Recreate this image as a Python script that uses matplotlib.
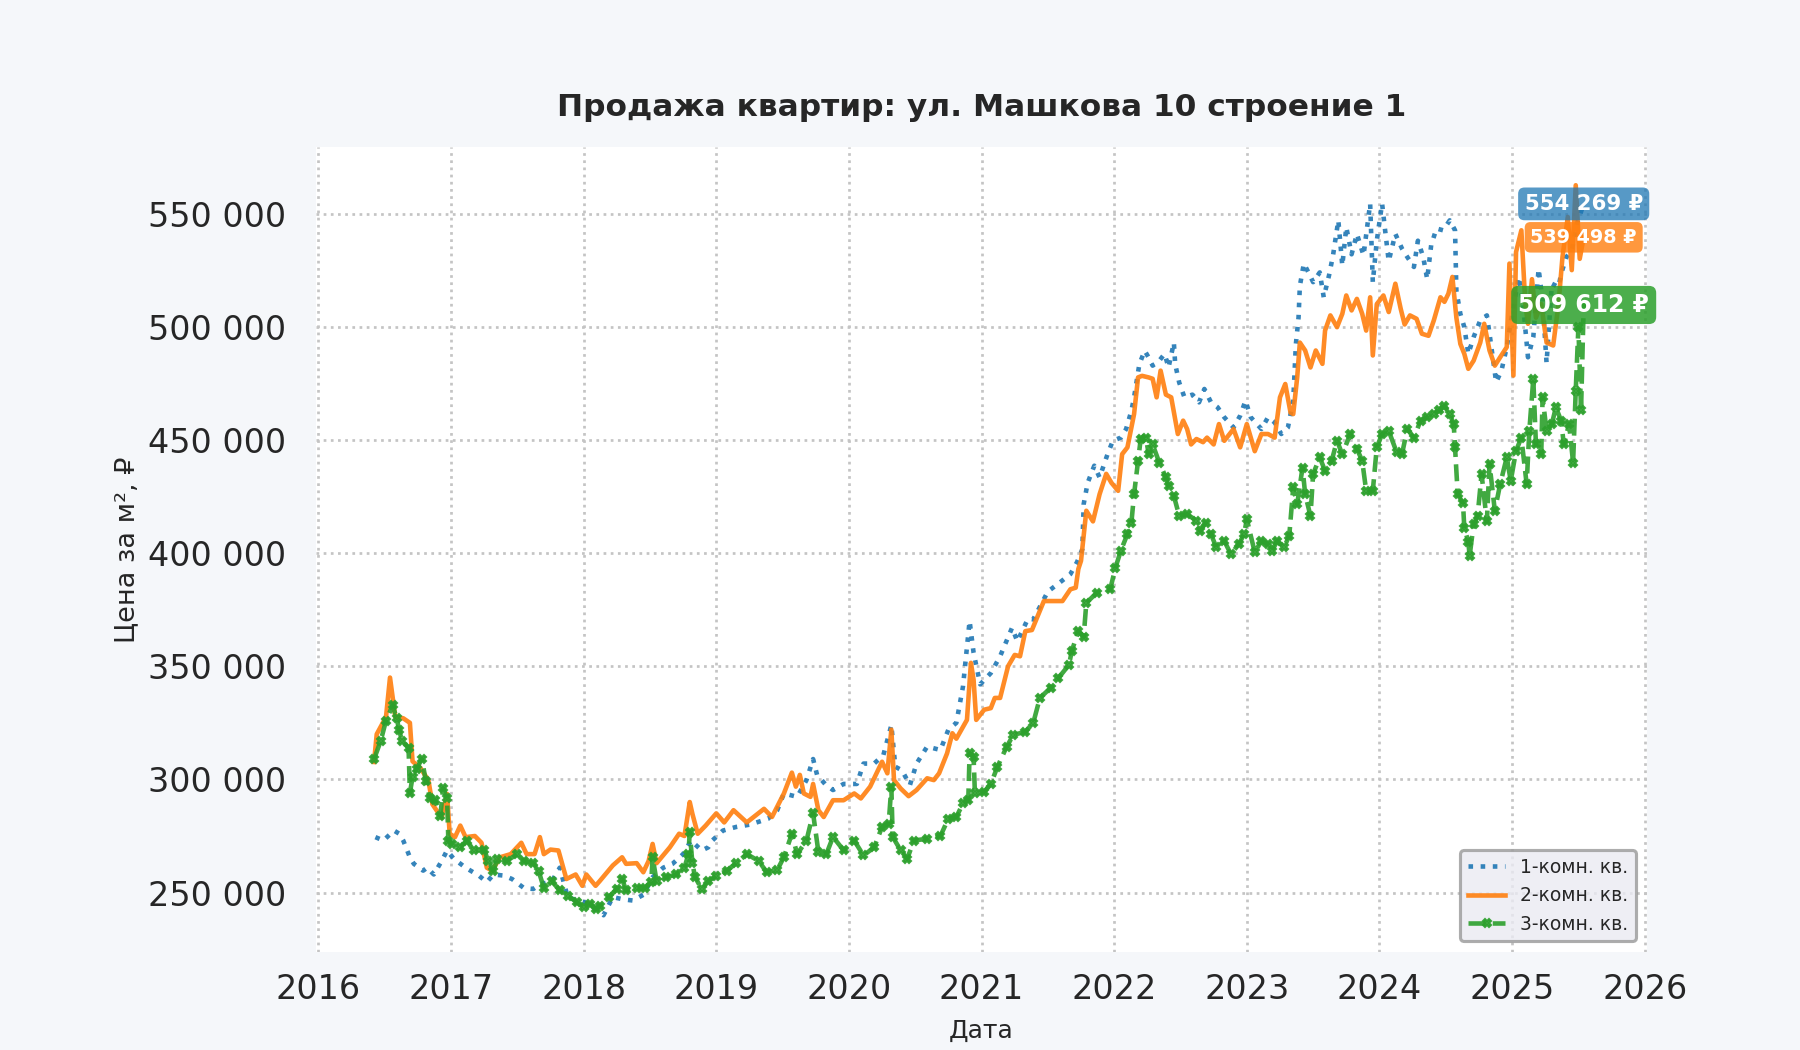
import matplotlib
matplotlib.use("Agg")
import matplotlib.pyplot as plt
from matplotlib.ticker import FuncFormatter, MultipleLocator

# decimal years / price per m2 in thousands of roubles
t1 = [2016.43, 2016.49, 2016.57, 2016.61, 2016.64, 2016.69, 2016.72, 2016.79, 2016.82, 2016.87,
      2016.93, 2016.97, 2017.02, 2017.11, 2017.21, 2017.27, 2017.32, 2017.40, 2017.46, 2017.55,
      2017.62, 2017.68, 2017.76, 2017.82, 2017.88, 2017.95, 2018.01, 2018.07, 2018.15, 2018.22,
      2018.30, 2018.37, 2018.45, 2018.52, 2018.60, 2018.67, 2018.75, 2018.81, 2018.89, 2018.94,
      2018.97, 2019.05, 2019.15, 2019.25, 2019.39, 2019.46, 2019.51, 2019.61, 2019.68, 2019.73,
      2019.76, 2019.82, 2019.88, 2019.96, 2020.06, 2020.11, 2020.19, 2020.26, 2020.32, 2020.35,
      2020.40, 2020.46, 2020.51, 2020.59, 2020.69, 2020.75, 2020.81, 2020.86, 2020.91, 2020.94,
      2020.99, 2021.07, 2021.14, 2021.23, 2021.27, 2021.35, 2021.39, 2021.50, 2021.59, 2021.67,
      2021.72, 2021.76, 2021.77, 2021.80, 2021.85, 2021.89, 2021.95, 2021.99, 2022.05, 2022.09,
      2022.13, 2022.15, 2022.19, 2022.23, 2022.26, 2022.29, 2022.34, 2022.38, 2022.41, 2022.45,
      2022.46, 2022.49, 2022.53, 2022.59, 2022.64, 2022.68, 2022.73, 2022.78, 2022.83, 2022.90,
      2022.95, 2022.99, 2023.03, 2023.11, 2023.16, 2023.21, 2023.26, 2023.31, 2023.35, 2023.37,
      2023.39, 2023.40, 2023.43, 2023.47, 2023.50, 2023.55, 2023.58, 2023.62, 2023.65, 2023.69,
      2023.72, 2023.75, 2023.79, 2023.83, 2023.88, 2023.93, 2023.95, 2023.98, 2024.02, 2024.04,
      2024.07, 2024.12, 2024.17, 2024.21, 2024.26, 2024.29, 2024.33, 2024.36, 2024.39, 2024.43,
      2024.48, 2024.53, 2024.57, 2024.58, 2024.61, 2024.64, 2024.67, 2024.71, 2024.76, 2024.81,
      2024.83, 2024.88, 2024.92, 2024.96, 2024.99, 2025.05, 2025.08, 2025.12, 2025.16, 2025.20,
      2025.23, 2025.26, 2025.30, 2025.35, 2025.37, 2025.41, 2025.45, 2025.49, 2025.54]
p1 = [274.5, 273, 277.4, 276, 273, 265.6, 262.7, 259.7, 261, 258,
      264, 268.6, 265, 261, 257.5, 254.6, 258, 257.5, 256, 252,
      251.6, 253.8, 255, 261, 248, 246.5, 245.7, 243.5, 240, 248,
      247, 246.5, 249, 256.8, 261, 262.7, 267, 273, 268.6, 270,
      273, 277.4, 279, 280, 282.6, 286.4, 293.8, 292.3, 299.7, 309,
      302, 298, 295.3, 298, 298, 307, 307, 310.8, 324, 305.6,
      304, 297.5, 307, 314.5, 313, 322, 325, 341, 370, 356,
      342, 347, 354.4, 367, 361, 371, 370.7, 383, 387, 390.7,
      396, 401.7, 421.6, 431, 438.6, 433.4, 443.7, 449.6, 451, 454.8,
      462.9, 468.8, 483.5, 489.4, 486.4, 482.8, 485, 488, 482, 493,
      483.5, 475.4, 468.8, 470, 466.6, 472.5, 466.6, 464.4, 460, 455.5,
      460.7, 467.3, 460, 454.8, 460, 457.7, 452.6, 455.5, 467.3, 492.3,
      504, 518, 527.9, 523.4, 519.7, 524, 513, 522.7, 531.5, 547,
      527, 544, 532, 541, 531.5, 554.4, 519.7, 538, 554.4, 544,
      529, 541, 534.5, 530.8, 526.4, 538, 530.8, 521, 536, 543.4,
      542.6, 547, 542.6, 516, 505.7, 499.8, 488, 495.4, 502.8, 505,
      496.9, 475.5, 480.6, 491, 502, 522, 511.6, 486.5, 495.4, 525.6,
      511.6, 484, 519, 517.5, 523.4, 530.8, 533.8, 545.6, 554.269]

t2 = [2016.42, 2016.44, 2016.51, 2016.54, 2016.58, 2016.64, 2016.69, 2016.71, 2016.77, 2016.83,
      2016.86, 2016.93, 2016.97, 2016.99, 2017.03, 2017.07, 2017.11, 2017.18, 2017.23, 2017.27,
      2017.31, 2017.37, 2017.45, 2017.53, 2017.57, 2017.63, 2017.67, 2017.70, 2017.75, 2017.81,
      2017.87, 2017.94, 2017.99, 2018.02, 2018.09, 2018.12, 2018.22, 2018.29, 2018.32, 2018.40,
      2018.45, 2018.49, 2018.52, 2018.55, 2018.65, 2018.72, 2018.76, 2018.80, 2018.82, 2018.86,
      2018.92, 2019.00, 2019.06, 2019.13, 2019.23, 2019.36, 2019.42, 2019.51, 2019.57, 2019.60,
      2019.63, 2019.66, 2019.71, 2019.73, 2019.77, 2019.81, 2019.88, 2019.96, 2020.04, 2020.09,
      2020.16, 2020.25, 2020.29, 2020.32, 2020.34, 2020.39, 2020.45, 2020.51, 2020.59, 2020.64,
      2020.68, 2020.74, 2020.78, 2020.81, 2020.89, 2020.92, 2020.94, 2020.96, 2021.02, 2021.07,
      2021.10, 2021.14, 2021.20, 2021.25, 2021.29, 2021.33, 2021.38, 2021.47, 2021.53, 2021.61,
      2021.67, 2021.71, 2021.73, 2021.75, 2021.79, 2021.84, 2021.89, 2021.94, 2021.98, 2022.03,
      2022.06, 2022.10, 2022.15, 2022.18, 2022.21, 2022.26, 2022.29, 2022.32, 2022.35, 2022.39,
      2022.43, 2022.48, 2022.52, 2022.55, 2022.58, 2022.62, 2022.67, 2022.70, 2022.75, 2022.79,
      2022.83, 2022.90, 2022.95, 2023.00, 2023.06, 2023.11, 2023.16, 2023.21, 2023.25, 2023.29,
      2023.33, 2023.35, 2023.38, 2023.40, 2023.44, 2023.48, 2023.52, 2023.57, 2023.59, 2023.63,
      2023.68, 2023.72, 2023.75, 2023.79, 2023.83, 2023.87, 2023.90, 2023.93, 2023.95, 2023.98,
      2024.03, 2024.07, 2024.12, 2024.16, 2024.19, 2024.23, 2024.28, 2024.32, 2024.37, 2024.41,
      2024.46, 2024.49, 2024.52, 2024.55, 2024.58, 2024.61, 2024.64, 2024.67, 2024.71, 2024.76,
      2024.79, 2024.83, 2024.87, 2024.91, 2024.96, 2024.98, 2025.01, 2025.03, 2025.07, 2025.10,
      2025.12, 2025.15, 2025.18, 2025.22, 2025.26, 2025.31, 2025.35, 2025.38, 2025.42, 2025.45,
      2025.48, 2025.51, 2025.54]
p2 = [307.7, 320, 327.6, 345, 327.6, 327, 325, 308, 305, 299.5,
      289, 283, 293.6, 276, 274.5, 279.6, 274.5, 275, 272, 261,
      259.7, 265.6, 267, 272, 267, 267, 274.5, 267, 269, 268.6,
      256, 258, 253, 258, 253, 255, 262, 265.6, 262.7, 263,
      259, 264, 271.5, 263, 270, 276, 275, 290, 284.8, 276,
      279.6, 285, 281, 286.4, 281, 287, 283.4, 293.8, 303, 296.8,
      302, 293.8, 292.3, 298, 286.4, 283.4, 290.8, 290.8, 293.8, 291.6,
      296.8, 307.8, 302.7, 322, 299.7, 296, 292.6, 295.3, 300.5, 299.7,
      302.7, 311.5, 320.4, 318, 326.3, 351.5, 344, 326.3, 330.8, 331.5,
      336, 336, 350, 355, 354.4, 365.5, 366, 378.8, 378.8, 378.8,
      384, 384.7, 393, 396.6, 418.7, 414, 426, 435, 431, 427.5,
      443.7, 446.7, 461.4, 477.6, 478.3, 477.6, 477, 468.8, 480.6, 470,
      468.8, 452.6, 458.5, 454.8, 448, 450.4, 449, 451, 448, 457,
      449.6, 454.8, 446.7, 457, 445, 452.6, 452.6, 451, 468.8, 474.7,
      462, 461.4, 477.7, 493, 489.5, 482, 489.5, 483.6, 498.3, 505,
      499.8, 505.7, 513.8, 507.2, 512.3, 505.7, 498.3, 513, 487.3, 510,
      513.8, 506.5, 519, 508, 501, 505, 503.5, 496.9, 496, 502.8,
      513, 511, 514.6, 522, 504, 492.4, 488, 481.4, 485, 493,
      501.3, 489.5, 482.8, 486.5, 491, 527.9, 478.4, 533, 542.6, 510,
      501.3, 521, 504, 510, 493, 491.7, 510, 530.8, 548.5, 525,
      562.5, 530, 539.498]

t3 = [2016.42, 2016.47, 2016.51, 2016.56, 2016.59, 2016.61, 2016.63, 2016.68, 2016.69, 2016.71,
      2016.74, 2016.78, 2016.81, 2016.84, 2016.88, 2016.92, 2016.94, 2016.97, 2016.98, 2017.01,
      2017.07, 2017.12, 2017.17, 2017.25, 2017.28, 2017.32, 2017.35, 2017.42, 2017.50, 2017.55,
      2017.62, 2017.66, 2017.70, 2017.76, 2017.82, 2017.88, 2017.95, 2018.00, 2018.05, 2018.09,
      2018.12, 2018.19, 2018.25, 2018.29, 2018.32, 2018.40, 2018.46, 2018.51, 2018.52, 2018.55,
      2018.62, 2018.70, 2018.76, 2018.79, 2018.80, 2018.82, 2018.84, 2018.89, 2018.94, 2019.00,
      2019.08, 2019.15, 2019.23, 2019.32, 2019.38, 2019.46, 2019.51, 2019.57, 2019.61, 2019.68,
      2019.73, 2019.77, 2019.83, 2019.88, 2019.96, 2020.04, 2020.11, 2020.19, 2020.25, 2020.30,
      2020.32, 2020.33, 2020.39, 2020.44, 2020.49, 2020.59, 2020.69, 2020.75, 2020.81, 2020.86,
      2020.90, 2020.91, 2020.94, 2020.95, 2021.02, 2021.07, 2021.12, 2021.19, 2021.24, 2021.33,
      2021.39, 2021.44, 2021.52, 2021.58, 2021.66, 2021.68, 2021.73, 2021.77, 2021.79, 2021.87,
      2021.97, 2022.01, 2022.05, 2022.10, 2022.13, 2022.15, 2022.18, 2022.20, 2022.24, 2022.26,
      2022.29, 2022.34, 2022.39, 2022.41, 2022.45, 2022.49, 2022.55, 2022.62, 2022.65, 2022.69,
      2022.73, 2022.77, 2022.83, 2022.88, 2022.94, 2022.98, 2023.00, 2023.06, 2023.11, 2023.16,
      2023.19, 2023.23, 2023.28, 2023.32, 2023.35, 2023.38, 2023.42, 2023.44, 2023.48, 2023.50,
      2023.55, 2023.59, 2023.64, 2023.68, 2023.72, 2023.78, 2023.83, 2023.87, 2023.90, 2023.95,
      2023.98, 2024.02, 2024.07, 2024.13, 2024.17, 2024.21, 2024.26, 2024.31, 2024.36, 2024.41,
      2024.45, 2024.49, 2024.53, 2024.56, 2024.57, 2024.59, 2024.63, 2024.64, 2024.67, 2024.68,
      2024.71, 2024.74, 2024.77, 2024.81, 2024.83, 2024.87, 2024.91, 2024.96, 2024.99, 2025.03,
      2025.07, 2025.11, 2025.13, 2025.16, 2025.18, 2025.22, 2025.23, 2025.26, 2025.30, 2025.33,
      2025.37, 2025.39, 2025.43, 2025.46, 2025.48, 2025.50, 2025.52, 2025.54]
p3 = [309, 317, 326, 332.7, 327, 321.7, 317, 314, 294, 301,
      304.7, 309, 299.5, 292, 290.7, 284, 296, 292, 273, 271.5,
      270, 273, 268.6, 269, 264, 259.7, 265, 264, 267, 264,
      263, 259.7, 252, 255, 251, 248.7, 245.7, 243.5, 245, 242.8,
      244, 248, 251.6, 256, 251, 252, 252, 254.6, 265.6, 255,
      256.8, 258, 261, 267, 276.7, 263, 256.8, 251.6, 255, 257.5,
      259.7, 263, 267, 264, 259, 260, 265.7, 276, 267, 273,
      285, 268, 267, 274.6, 268.7, 273, 266.4, 270, 279, 280.5,
      296.8, 274.6, 268.7, 265, 273, 273.8, 275, 282.7, 283.4, 289.4,
      290.8, 311.5, 310, 293.8, 294.5, 298, 305.6, 314.5, 319.7, 321,
      325, 336, 340.4, 344.8, 350.7, 356.7, 365.5, 363, 378, 382.5,
      384, 393.6, 401, 408.4, 413.5, 426, 440.8, 450.4, 451, 443.7,
      448, 440, 433.4, 429.7, 425.3, 416.5, 417.2, 414.3, 409.9, 413.5,
      408.4, 402.5, 405.4, 399.5, 404, 408.4, 415, 400.3, 405.4, 404,
      401, 405.4, 402.5, 407.6, 429, 421.6, 437.8, 426, 416.4, 434.9,
      442.3, 436.3, 440.8, 449.6, 443.7, 452.6, 446, 440.8, 427.5, 427.5,
      446.7, 452.6, 454, 444.5, 443.7, 454.8, 451, 458.5, 460, 461.4,
      463, 465, 461.4, 457, 446.7, 426, 422, 411, 405, 398.7,
      412.7, 416.4, 434.9, 414, 439.3, 418.7, 430.4, 442.3, 431.9, 445.2,
      451, 430.4, 454, 477, 448, 443.7, 468.8, 454, 457, 464.4,
      458.5, 448, 457, 440, 471.8, 499.8, 463, 509.612]

names = ["1-комн. кв.", "2-комн. кв.", "3-комн. кв."]
colors = ["#1f77b4", "#ff7f0e", "#2ca02c"]
years = list(range(2016, 2027))

fig = plt.figure(figsize=(12, 7), dpi=150, facecolor="#f5f7fa")
ax = fig.add_axes([0.1754, 0.093, 0.7398, 0.767])
ax.set_facecolor("white")

ax.plot(t1, [v * 1000 for v in p1], ls=":", lw=2.2, color=colors[0], alpha=0.9, label=names[0])
ax.plot(t2, [v * 1000 for v in p2], ls="-", lw=2.2, color=colors[1], alpha=0.9, label=names[1])
ax.plot(t3, [v * 1000 for v in p3], ls="--", lw=2.2, color=colors[2], alpha=0.9,
        marker="X", markersize=4, label=names[2])

# last-value badges
badge_size = [10.2, 9.2, 11.3]
badge_alpha = [0.75, 0.8, 0.85]
for t, p, c, fs, a in zip([t1, t2, t3], [p1, p2, p3], colors, badge_size, badge_alpha):
    val = p[-1] * 1000
    ax.text(t[-1], val, f"{val:,.0f} ₽".replace(",", " "), ha="center", va="center",
            fontsize=fs, fontweight="bold", color="white", zorder=5,
            bbox=dict(boxstyle="round,pad=0.3", fc=c, ec="none", alpha=a))

ax.set_xlim(2015.98, 2026.02)
ax.set_ylim(223600, 579400)
ax.set_xticks(years)
ax.yaxis.set_major_locator(MultipleLocator(50000))
ax.yaxis.set_major_formatter(FuncFormatter(lambda x, _: f"{x:,.0f}".replace(",", " ")))

ax.grid(True, ls=":", lw=1.3, color="#c4c4c4")
for s in ax.spines.values():
    s.set_visible(False)
ax.tick_params(axis="both", length=0, labelsize=16, colors="#262626")
ax.tick_params(axis="y", pad=14)
ax.tick_params(axis="x", pad=10)

ax.set_title("Продажа квартир: ул. Машкова 10 строение 1", fontsize=15, fontweight="bold",
             color="#262626", pad=15)
ax.set_xlabel("Дата", fontsize=12, color="#262626", labelpad=6)
ax.set_ylabel("Цена за м², ₽", fontsize=13, color="#262626", labelpad=4)

leg = ax.legend(loc="lower right", fontsize=9, frameon=True, fancybox=True, borderaxespad=0.6)
leg.get_frame().set_facecolor("#eaeaf2")
leg.get_frame().set_edgecolor("#999999")
leg.get_frame().set_linewidth(1.5)
for t in leg.get_texts():
    t.set_color("#262626")

fig.savefig("out.png", dpi=150, facecolor=fig.get_facecolor())
